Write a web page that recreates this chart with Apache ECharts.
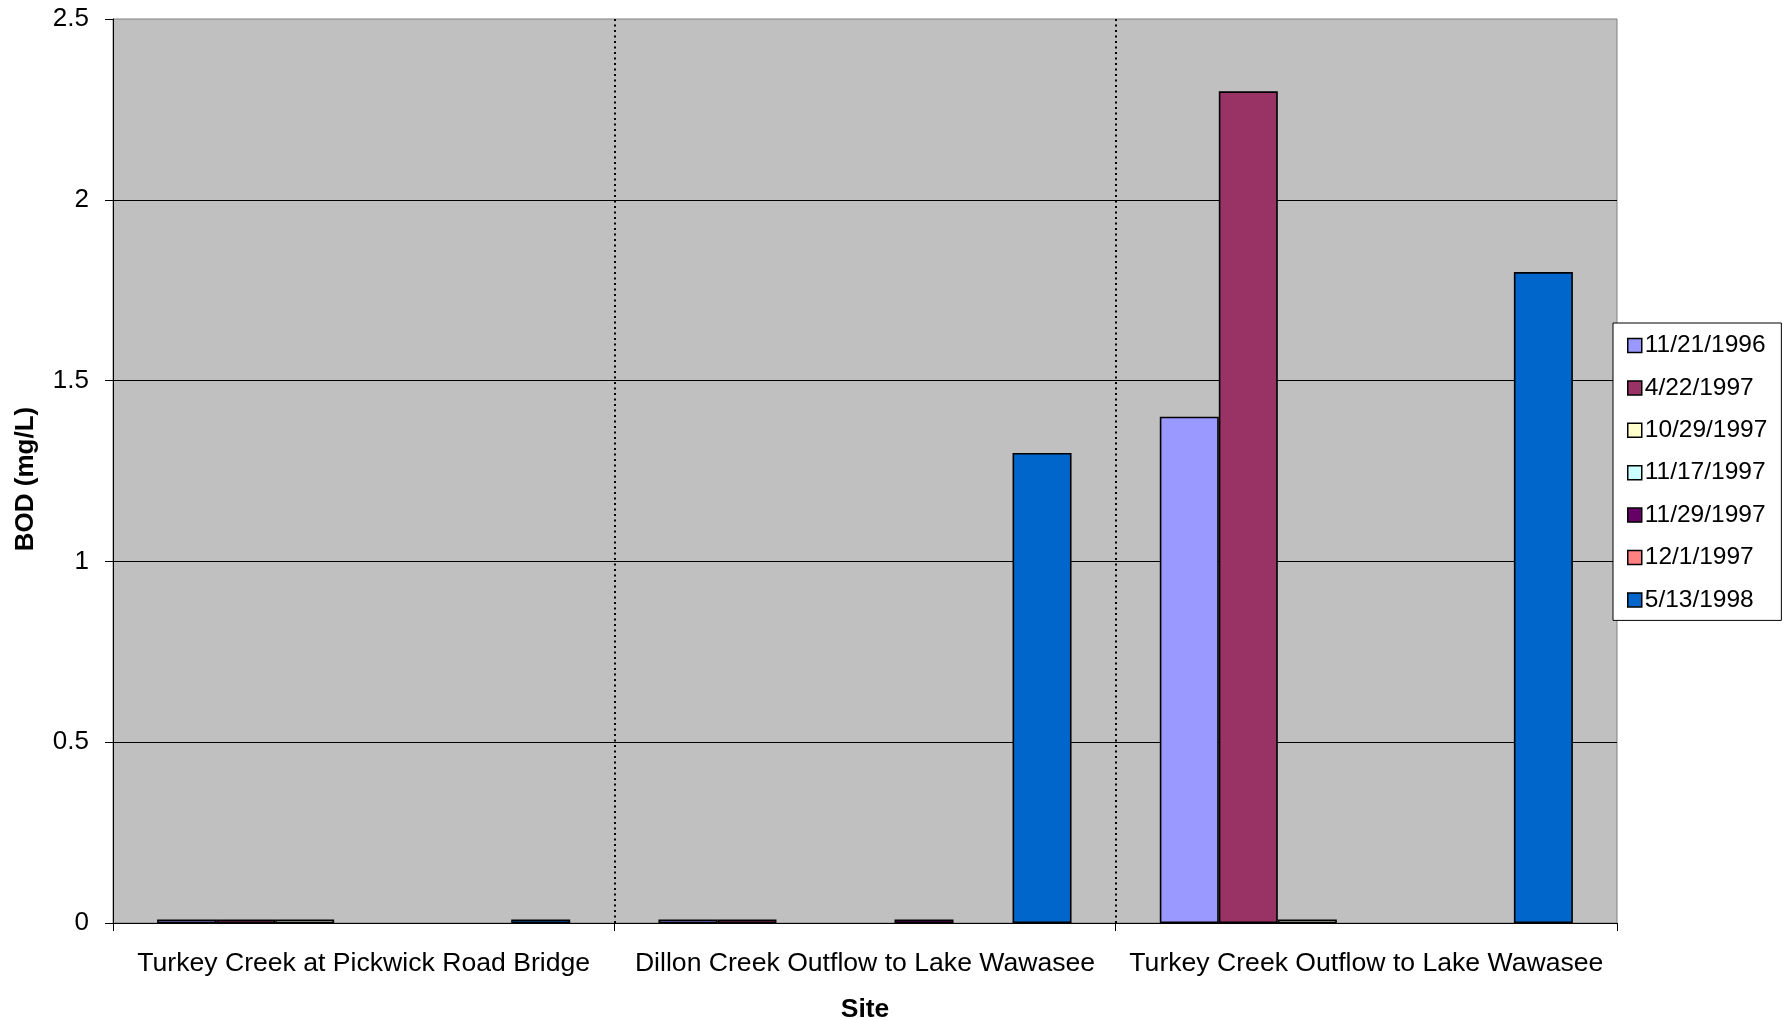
<!DOCTYPE html>
<html>
<head>
<meta charset="utf-8">
<style>
  html, body { margin: 0; padding: 0; background: #ffffff; overflow: hidden; }
  #chart { width: 1785px; height: 1020px; }
</style>
<script src="https://cdn.jsdelivr.net/npm/echarts@6/dist/echarts.min.js"></script>
</head>
<body>
<div id="chart"></div>
<script>
// ---- data ----
const categories = [
  'Turkey Creek at Pickwick Road Bridge',
  'Dillon Creek Outflow to Lake Wawasee',
  'Turkey Creek Outflow to Lake Wawasee'
];
const seriesNames = ['11/21/1996', '4/22/1997', '10/29/1997', '11/17/1997', '11/29/1997', '12/1/1997', '5/13/1998'];
const seriesColors = ['#9999FF', '#993366', '#FFFFCC', '#CCFFFF', '#660066', '#FF8080', '#0066CC'];
const v_11_21_1996 = [0.01, 0.01, 1.4];
const v_4_22_1997  = [0.01, 0.01, 2.3];
const v_10_29_1997 = [0.01, '-', 0.01];
const v_11_17_1997 = ['-', '-', '-'];
const v_11_29_1997 = ['-', 0.01, '-'];
const v_12_1_1997  = ['-', '-', '-'];
const v_5_13_1998  = [0.01, 1.3, 1.8];
const seriesValues = [v_11_21_1996, v_4_22_1997, v_10_29_1997, v_11_17_1997, v_11_29_1997, v_12_1_1997, v_5_13_1998];
const yTicks = { min: 0, max: 2.5, interval: 0.5 };

const FONT = 'Liberation Sans, Arial, sans-serif';

const chart = echarts.init(document.getElementById('chart'), null, { renderer: 'canvas' });

const series = seriesNames.map((name, i) => ({
  name: name,
  type: 'bar',
  data: seriesValues[i],
  barGap: '0%',
  barCategoryGap: '17.6%',
  itemStyle: { color: seriesColors[i], borderColor: '#000000', borderWidth: 1.6 },
  emphasis: { disabled: true },
  animation: false
}));

chart.setOption({
  animation: false,
  backgroundColor: '#ffffff',
  textStyle: { fontFamily: FONT },
  grid: {
    left: 113, right: 168, top: 19, bottom: 97,
    show: true, backgroundColor: '#C0C0C0', borderColor: '#808080', borderWidth: 1,
    containLabel: false,
    outerBoundsMode: 'none'
  },
  legend: {
    orient: 'vertical',
    left: 1613, top: 323,
    padding: [10, 14, 8, 14],
    backgroundColor: '#ffffff',
    borderColor: '#000000', borderWidth: 1,
    itemWidth: 14, itemHeight: 14, itemGap: 17.4,
    icon: 'rect',
    itemStyle: { borderColor: '#000000', borderWidth: 1.5 },
    textStyle: { fontFamily: FONT, fontSize: 24.5, color: '#000000', lineHeight: 24, padding: [0, 0, 0, -2] },
    data: seriesNames
  },
  xAxis: {
    type: 'category',
    data: categories,
    name: 'Site',
    nameLocation: 'middle',
    nameGap: 73,
    nameTextStyle: { fontFamily: FONT, fontSize: 26.5, fontWeight: 'bold', color: '#000000' },
    axisLine: { show: true, lineStyle: { color: '#000000', width: 1 } },
    axisTick: { show: true, length: 8, lineStyle: { color: '#000000' } },
    axisLabel: { fontFamily: FONT, fontSize: 26.6, color: '#000000', margin: 27, interval: 0 },
    splitLine: { show: true, showMinLine: false, showMaxLine: false, lineStyle: { color: '#000000', type: [2, 3.5], width: 2 } }
  },
  yAxis: {
    type: 'value',
    min: yTicks.min, max: yTicks.max, interval: yTicks.interval,
    name: 'BOD (mg/L)',
    nameLocation: 'middle',
    nameGap: 74,
    nameTextStyle: { fontFamily: FONT, fontSize: 26, fontWeight: 'bold', color: '#000000', padding: [0, 16, 0, 0] },
    axisLine: { show: true, lineStyle: { color: '#000000', width: 1 } },
    axisTick: { show: true, length: 8, lineStyle: { color: '#000000' } },
    axisLabel: { fontFamily: FONT, fontSize: 26, color: '#000000', margin: 24 },
    splitLine: { show: true, showMaxLine: false, lineStyle: { color: '#000000', width: 1 } }
  },
  series: series
});
</script>
</body>
</html>
